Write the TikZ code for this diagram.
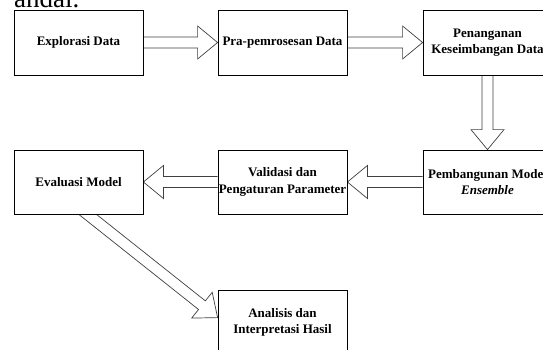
\documentclass[tikz,border=0pt]{standalone}
\usepackage{fontspec}
\setmainfont{Liberation Serif}
\usetikzlibrary{calc,backgrounds}
\tikzset{
 box/.style={draw=black, line width=0.8pt, fill=white, minimum width=129pt, minimum height=65pt, inner sep=0pt, align=center, font=\fontsize{13}{16.5}\selectfont\bfseries},
 barrow/.style={draw=black!75, line width=0.7pt, fill=white, line join=miter},
}
\newcommand\blockarr[2]{%
 \draw[barrow] ($(#1)!5.5pt!90:(#2)$) -- ($(#2)!20pt!(#1)!5.5pt!-90:(#1)$) -- ($(#2)!20pt!(#1)!16.5pt!-90:(#1)$) -- (#2) -- ($(#2)!20pt!(#1)!16.5pt!90:(#1)$) -- ($(#2)!20pt!(#1)!5.5pt!90:(#1)$) -- ($(#1)!5.5pt!-90:(#2)$);}
\begin{document}
\begin{tikzpicture}
\useasboundingbox (0,0) rectangle (543pt,-349pt);
\clip (0,0) rectangle (543pt,-349pt);
\node[anchor=base west, font=\fontsize{27}{30}\selectfont, inner sep=0pt] (intro) at (14pt,-7.5pt) {andai.};
\node[box] (A) at (78.5pt,-42.5pt) {Explorasi Data};
\node[box] (B) at (282.5pt,-42.5pt) {Pra-pemrosesan Data};
\node[box] (C) at (487.5pt,-42.5pt) {Penanganan\\Keseimbangan Data};
\node[box, minimum height=64pt] (D) at (487.5pt,-182pt) {Pembangunan Model\\\textit{Ensemble}};
\node[box, minimum height=64pt] (E) at (282.5pt,-182pt) {Validasi dan\\Pengaturan Parameter};
\node[box, minimum height=64pt] (F) at (78.5pt,-182pt) {Evaluasi Model};
\node[box] (G) at (282.5pt,-322.5pt) {Analisis dan\\Interpretasi Hasil};
\coordinate (fs) at ($(F.south west)+(69pt,4pt)$);
\coordinate (gt) at ($(G.north west)+(0,-28pt)$);
\begin{scope}[on background layer]
\blockarr{A.east}{B.west}
\blockarr{B.east}{C.west}
\blockarr{C.south}{D.north}
\blockarr{D.west}{E.east}
\blockarr{E.west}{F.east}
\blockarr{fs}{gt}
\end{scope}
\end{tikzpicture}
\end{document}
